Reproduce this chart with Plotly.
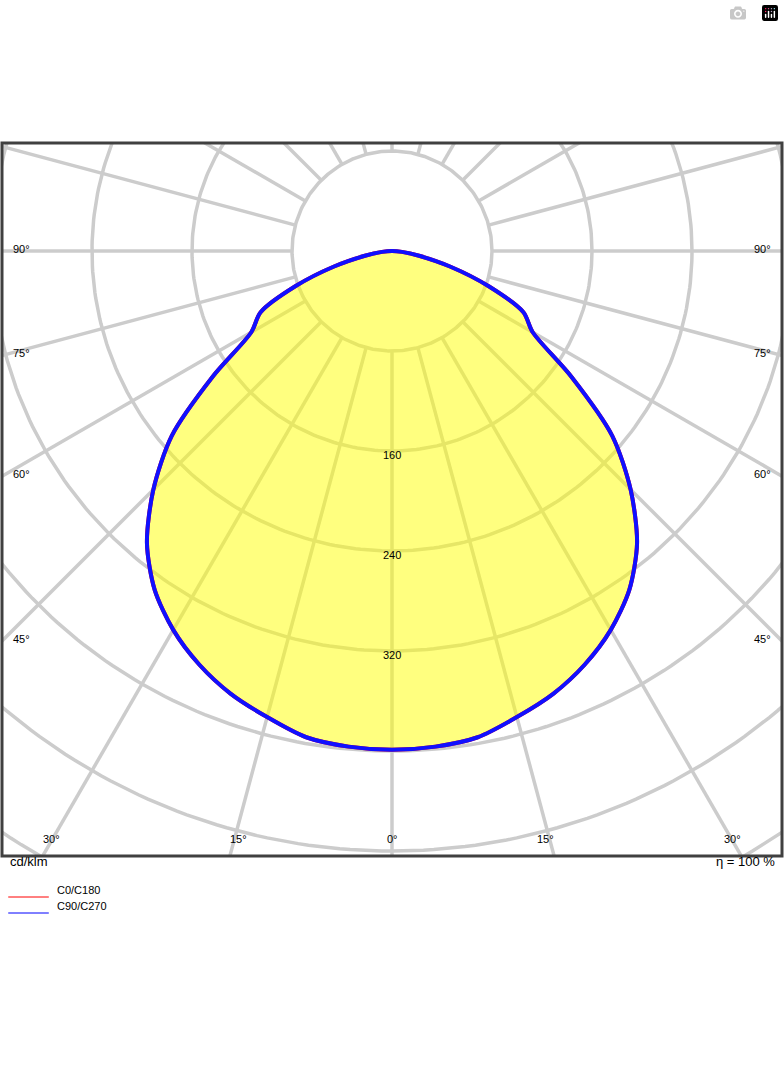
import numpy as np
import plotly.graph_objects as go

# luminous intensity (cd/klm) vs gamma angle (deg, 0 = nadir)
gamma = [0, 5, 10, 15, 20, 25, 30, 35, 40, 45, 50, 55, 60, 65, 70, 75, 80, 85, 90]
c0_c180 = [399, 398, 395, 386, 377, 365, 350, 331, 305, 270, 230, 175, 130, 116, 82, 48, 22, 8, 0]
c90_c270 = [399, 398, 395, 386, 377, 365, 350, 331, 305, 270, 230, 175, 130, 116, 82, 48, 22, 8, 0]
rings = [80, 160, 240, 320, 400, 480, 560, 640, 720, 800]
ring_labels = [160, 240, 320]
angle_labels = [90, 75, 60, 45]
bottom_angle_labels = [30, 15, 0]

XR = [-312, 312]
YR = [-484, 86.4]
GRID = "#cccccc"

fig = go.Figure()
t = np.linspace(0, 2 * np.pi, 361)
for r in rings:
    fig.add_trace(go.Scatter(x=r * np.cos(t), y=r * np.sin(t), mode="lines",
                             line=dict(color=GRID, width=3.5), hoverinfo="skip"))
for a in range(0, 360, 15):
    g = np.radians(a)
    fig.add_trace(go.Scatter(x=[-80 * np.sin(g), -900 * np.sin(g)], y=[-80 * np.cos(g), -900 * np.cos(g)],
                             mode="lines", line=dict(color=GRID, width=3.5), hoverinfo="skip"))

def curve(vals):
    g = np.radians(np.array(gamma, float))
    v = np.array(vals, float)
    x = np.concatenate([-v * np.sin(g), (v * np.sin(g))[::-1][1:]])
    y = np.concatenate([-v * np.cos(g), (-v * np.cos(g))[::-1][1:]])
    return x, y

x0, y0 = curve(c0_c180)
fig.add_trace(go.Scatter(x=x0, y=y0, mode="lines", fill="toself", fillcolor="rgba(255,255,0,0.5)",
                         line=dict(color="red", width=4, shape="spline", smoothing=0.8)))
x1, y1 = curve(c90_c270)
fig.add_trace(go.Scatter(x=x1, y=y1, mode="lines", line=dict(color="#1010ff", width=4, shape="spline", smoothing=0.8)))

font = dict(family="Liberation Sans, Arial", size=11, color="black")
anns = []
for r in ring_labels:
    anns.append(dict(x=0, y=-(r + 3), text=str(r), showarrow=False, font=font))
for a in angle_labels:
    y = -312 / np.tan(np.radians(a)) + 2
    anns.append(dict(x=-305, y=y, text=f"{a}°", showarrow=False, font=font, xanchor="left"))
    anns.append(dict(x=305, y=y, text=f"{a}°", showarrow=False, font=font, xanchor="right"))
for a in bottom_angle_labels:
    x = 484 * np.tan(np.radians(a))
    for s in ([1] if a == 0 else [-1, 1]):
        anns.append(dict(x=s * (x - (7 if a else 0)), y=-470, text=f"{a}°", showarrow=False, font=font))

H = 713.0
def py(pix):
    return (856 - pix) / H

big = dict(family="Liberation Sans, Arial", size=13, color="black")
anns += [
    dict(xref="paper", yref="paper", x=0.008, y=py(871), text="cd/klm", showarrow=False, xanchor="left", font=big),
    dict(xref="paper", yref="paper", x=0.994, y=py(871), text="η = 100 %", showarrow=False, xanchor="right", font=big),
    dict(xref="paper", yref="paper", x=0.068, y=py(898), text="C0/C180", showarrow=False, xanchor="left", font=font),
    dict(xref="paper", yref="paper", x=0.068, y=py(914), text="C90/C270", showarrow=False, xanchor="left", font=font),
]
shapes = [
    dict(type="rect", xref="paper", yref="paper", x0=0, y0=0, x1=1, y1=1, line=dict(color="#404040", width=3)),
    dict(type="line", xref="paper", yref="paper", x0=0.008, x1=0.06, y0=py(897), y1=py(897), line=dict(color="red", width=1)),
    dict(type="line", xref="paper", yref="paper", x0=0.008, x1=0.06, y0=py(913), y1=py(913), line=dict(color="blue", width=1)),
]

fig.update_layout(width=784, height=1066, margin=dict(l=2, r=2, t=143, b=210),
                  showlegend=False, plot_bgcolor="white", paper_bgcolor="white",
                  xaxis=dict(range=XR, visible=False, fixedrange=True),
                  yaxis=dict(range=YR, visible=False, fixedrange=True),
                  annotations=anns, shapes=shapes)
fig.write_html("out.html", post_script="document.body.style.margin='0';document.body.style.overflow='hidden';")
